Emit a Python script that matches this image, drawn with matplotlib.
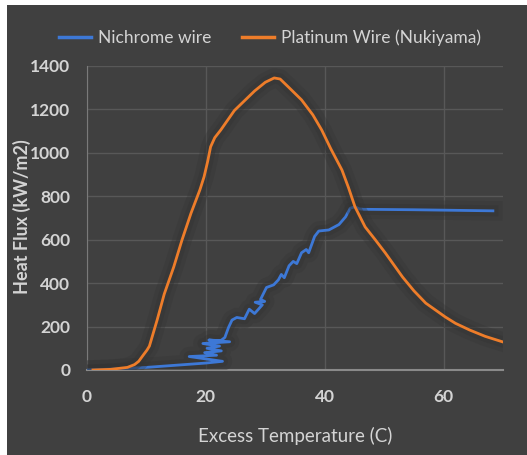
import matplotlib.pyplot as plt
import matplotlib.patheffects as pe
from matplotlib.patches import Rectangle

# Platinum wire (Nukiyama) boiling curve
plat_x = [1, 4, 6.8, 8, 8.7, 9.5, 10.1, 10.5, 11.8, 13, 14.6, 16, 17.5, 19, 19.7,
          20.3, 20.8, 21.5, 22.5, 24.8, 26.5, 28.2, 30, 31.5, 32.5, 33.9, 36.1,
          38, 39.5, 41, 42.9, 44, 45.1, 46.8, 48.5, 50.2, 53.1, 55, 57, 60.3, 62,
          64.4, 67, 70]
plat_y = [0, 3, 12, 25, 40, 70, 92, 110, 230, 350, 475, 600, 722, 830, 890,
          960, 1028, 1070, 1105, 1195, 1240, 1285, 1325, 1345, 1340, 1303, 1244,
          1175, 1105, 1020, 921, 840, 751, 659, 600, 539, 428, 365, 308, 244, 215,
          184, 155, 129]

# Nichrome wire measurements
nich_x = [0, 5, 10, 15, 20, 22.8, 17.2, 21.8, 19.8, 22.6, 20.2, 22.3, 19.5, 24.0,
          20.5, 22.5, 23.2, 23.8, 24.4, 25.2, 26.5, 27.3, 28.2, 29.5, 28.3, 29.9,
          29.2, 30.2, 31.4, 32.2, 32.7, 33.2, 34.0, 34.7, 35.3, 36.1, 36.9, 37.3,
          38.3, 39.0, 40.7, 42.4, 43.5, 44.3, 45.1, 45.8, 46.5, 55, 68.3]
nich_y = [0, 5, 12, 22, 32, 40, 62, 68, 80, 88, 100, 110, 122, 130,
          138, 135, 150, 195, 230, 242, 236, 280, 260, 300, 312, 316,
          325, 380, 392, 415, 440, 425, 480, 500, 490, 540, 555, 540,
          615, 640, 645, 670, 705, 745, 752, 742, 740, 738, 733]

BG = '#404040'
TXT = '#d4d4d4'
plt.rcParams['font.family'] = ['Lato', 'DejaVu Sans']

fig = plt.figure(figsize=(5.27, 4.55), dpi=100)
fig.patch.set_facecolor('white')
fig.patches.append(Rectangle((7 / 527, 0), 1, 1 - 5 / 455, transform=fig.transFigure,
                             facecolor=BG, edgecolor='none', zorder=-10))

ax = fig.add_axes([87 / 527, 1 - 370 / 455, 416 / 527, 304 / 455])
ax.set_facecolor(BG)

glow = [pe.Stroke(linewidth=14, foreground='#333333', alpha=0.3),
        pe.Stroke(linewidth=8, foreground='#333333', alpha=0.4),
        pe.Normal()]
ax.plot(nich_x, nich_y, color='#3d78d6', lw=2, label='Nichrome wire',
        path_effects=glow, zorder=3, solid_joinstyle='round')
ax.plot(plat_x, plat_y, color='#ee7d2a', lw=2, label='Platinum Wire (Nukiyama)',
        path_effects=glow, zorder=4, solid_joinstyle='round')

ax.set_xlim(0, 70)
ax.set_ylim(0, 1400)
ax.set_xticks([0, 20, 40, 60])
ax.set_yticks(range(0, 1401, 200))
ax.grid(True, color='#585858', lw=1)
ax.set_axisbelow(True)
for s in ['top', 'right']:
    ax.spines[s].set_visible(False)
ax.spines['left'].set_color('#7a7a7a')
ax.spines['bottom'].set_color('#8a8a8a')
ax.spines['bottom'].set_linewidth(1.5)
ax.tick_params(length=0, colors=TXT, labelsize=12.5)
ax.tick_params(axis='y', pad=12)
ax.tick_params(axis='x', pad=14)
for lab in ax.get_xticklabels() + ax.get_yticklabels():
    lab.set_fontweight('bold')

ax.set_xlabel('Excess Temperature (C)', color=TXT, fontsize=13.5)
ax.xaxis.set_label_coords(0.5, -(436 - 370) / 304, transform=ax.transAxes)
ax.set_ylabel('Heat Flux (kW/m2)', color=TXT, fontsize=13, fontweight='bold')
ax.yaxis.set_label_coords(-(87 - 22) / 416, (370 - 217) / 304, transform=ax.transAxes)
ax.yaxis.label.set_verticalalignment('center')
ax.xaxis.label.set_verticalalignment('center')

leg = fig.legend(loc='center', bbox_to_anchor=(270 / 527, 1 - 38 / 455), ncol=2,
                 frameon=False, fontsize=12.5, handlelength=1.8, columnspacing=1.8,
                 handletextpad=0.4)
for t in leg.get_texts():
    t.set_color(TXT)
for h in leg.get_lines():
    h.set_path_effects([])
    h.set_linewidth(2.5)

fig.savefig('out.png', dpi=100, facecolor=fig.get_facecolor())
